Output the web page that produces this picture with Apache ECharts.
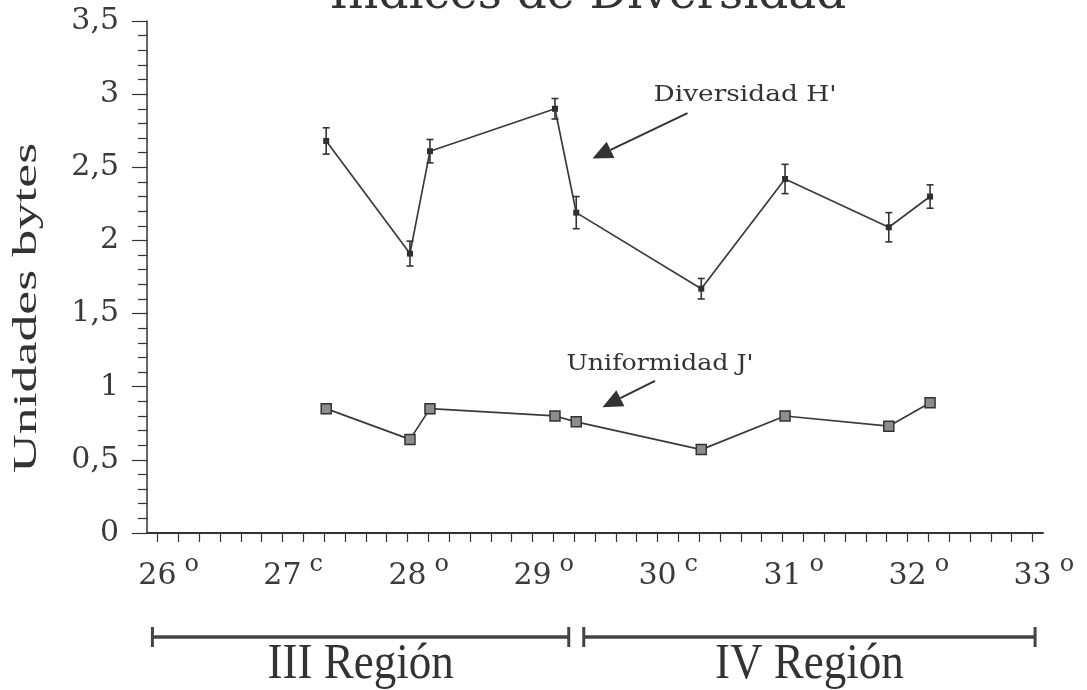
<!DOCTYPE html>
<html>
<head>
<meta charset="utf-8">
<script src="https://cdn.jsdelivr.net/npm/echarts/dist/echarts.min.js"></script>
<style>
  html, body { margin: 0; padding: 0; background: #fff; }
  #chart { width: 1087px; height: 690px; }
</style>
</head>
<body>
<div id="chart"></div>
<script>
// Sampling stations by latitude (degrees S)
const latitudes = [27.35, 28.02, 28.18, 29.18, 29.35, 30.35, 31.02, 31.85, 32.18];
// Shannon diversity H' and its error
const diversidadH = [2.68, 1.91, 2.61, 2.90, 2.19, 1.67, 2.42, 2.09, 2.30];
const diversidadErr = [0.09, 0.085, 0.08, 0.07, 0.11, 0.07, 0.10, 0.10, 0.08];
// Pielou evenness J'
const uniformidadJ = [0.85, 0.64, 0.85, 0.80, 0.76, 0.57, 0.80, 0.73, 0.89];
// Latitude tick labels and their raised marks
const latTickLabels = ['26', '27', '28', '29', '30', '31', '32', '33'];
const latTickMarks = ['o', 'c', 'o', 'o', 'c', 'o', 'o', 'o'];
// Administrative regions along the latitude axis
const regionNames = ['III Región', 'IV Región'];
const regionFrom = [25.96, 29.41];
const regionTo = [29.29, 33.02];

const STEP = 1 / 12;                       // half of a 10' minor tick
const latMin = Number(latTickLabels[0]) - STEP;
const latMax = Number(latTickLabels[latTickLabels.length - 1]) + STEP;
const slotCount = Math.round((latMax - latMin) / STEP) + 1;
const latSlots = [];
for (let i = 0; i < slotCount; i++) latSlots.push((latMin + i * STEP).toFixed(4));

const INK = '#333';
const TXT = '#3a3a3a';
const chart = echarts.init(document.getElementById('chart'), null, { renderer: 'canvas' });

const option = {
  animation: false,
  backgroundColor: '#fff',
  grid: { left: 147, right: 44, top: 21, bottom: 157, containLabel: false },
  xAxis: [
    { type: 'value', min: latMin, max: latMax, show: false, position: 'bottom' },
    {
      type: 'category', position: 'bottom', boundaryGap: false, data: latSlots,
      axisLine: { show: true, lineStyle: { color: INK, width: 2 } },
      axisTick: { show: true, inside: false, length: 9, interval: (i) => i % 2 === 1,
                  lineStyle: { color: INK, width: 1.2 } },
      axisLabel: {
        interval: (i) => (i - 1) % 12 === 0,
        margin: 20,
        formatter: (v, i) => {
          const k = Math.round((i - 1) / 12);
          const m = latTickMarks[k];
          return '{g|' + m + '}{n|' + latTickLabels[k] + '}{s|' + m + '}';
        },
        rich: {
          n: { fontFamily: 'DejaVu Serif', fontSize: 30, color: TXT, lineHeight: 38, verticalAlign: 'bottom' },
          s: { fontFamily: 'DejaVu Serif', fontSize: 24, color: TXT, verticalAlign: 'top',
               padding: [0, 0, 0, 8], lineHeight: 20 },
          g: { fontFamily: 'DejaVu Serif', fontSize: 24, color: 'rgba(0,0,0,0)', verticalAlign: 'top',
               padding: [0, 8, 0, 0], lineHeight: 20 }
        }
      },
      splitLine: { show: false }
    }
  ],
  yAxis: {
    type: 'value', min: 0, max: 3.5, interval: 0.5,
    axisLine: { show: true, lineStyle: { color: INK, width: 1.5 } },
    axisTick: { show: true, length: 15, lineStyle: { color: INK, width: 1.2 } },
    minorTick: { show: true, splitNumber: 5, length: 9, lineStyle: { color: INK, width: 1.2 } },
    splitLine: { show: false },
    axisLabel: {
      margin: 28, fontFamily: 'DejaVu Serif', fontSize: 30, color: TXT,
      formatter: (v) => String(v).replace('.', ',')
    }
  },
  series: [
    {
      name: "Diversidad H'", type: 'line', xAxisIndex: 0, yAxisIndex: 0,
      data: latitudes.map((x, i) => [x, diversidadH[i]]),
      symbol: 'rect', symbolSize: 6,
      itemStyle: { color: '#2e2e2e' },
      lineStyle: { color: '#3a3a3a', width: 1.7 },
      z: 4
    },
    {
      name: 'error', type: 'custom', xAxisIndex: 0, yAxisIndex: 0,
      data: latitudes.map((x, i) => [x, diversidadH[i] - diversidadErr[i], diversidadH[i] + diversidadErr[i]]),
      encode: { x: 0, y: [1, 2] },
      renderItem: (params, api) => {
        const x = api.value(0);
        const lo = api.coord([x, api.value(1)]);
        const hi = api.coord([x, api.value(2)]);
        const w = 3.5;
        const style = { stroke: '#333', lineWidth: 1.6, fill: null };
        return {
          type: 'group',
          children: [
            { type: 'line', shape: { x1: lo[0], y1: lo[1], x2: hi[0], y2: hi[1] }, style },
            { type: 'line', shape: { x1: lo[0] - w, y1: lo[1], x2: lo[0] + w, y2: lo[1] }, style },
            { type: 'line', shape: { x1: hi[0] - w, y1: hi[1], x2: hi[0] + w, y2: hi[1] }, style }
          ]
        };
      },
      z: 5
    },
    {
      name: "Uniformidad J'", type: 'line', xAxisIndex: 0, yAxisIndex: 0,
      data: latitudes.map((x, i) => [x, uniformidadJ[i]]),
      symbol: 'rect', symbolSize: 10,
      itemStyle: { color: '#8d8d8d', borderColor: '#333', borderWidth: 1.5 },
      lineStyle: { color: '#3a3a3a', width: 1.7 },
      z: 4
    }
  ]
};
chart.setOption(option);

// Annotations placed in data coordinates
const px = (x, y) => chart.convertToPixel({ xAxisIndex: 0, yAxisIndex: 0 }, [x, y]);

function arrow(from, tip) {
  const a = px(from[0], from[1]);
  const b = px(tip[0], tip[1]);
  const ang = Math.atan2(b[1] - a[1], b[0] - a[0]);
  const len = 20, half = 9;
  const bx = b[0] - len * Math.cos(ang), by = b[1] - len * Math.sin(ang);
  const nx = -Math.sin(ang), ny = Math.cos(ang);
  return [
    { type: 'line', shape: { x1: a[0], y1: a[1], x2: bx, y2: by },
      style: { stroke: '#333', lineWidth: 2 } },
    { type: 'polygon', shape: { points: [[b[0], b[1]], [bx + nx * half, by + ny * half], [bx - nx * half, by - ny * half]] },
      style: { fill: '#333' } }
  ];
}

function label(text, at, font, sx) {
  const p = px(at[0], at[1]);
  return { type: 'text', x: p[0], y: p[1], scaleX: sx || 1,
           style: { text, font, fill: '#333', align: 'center', verticalAlign: 'middle' } };
}

const graphics = [];
graphics.push(label("Diversidad H'", [30.70, 2.99], '22px "DejaVu Serif"', 1.2));
graphics.push(...arrow([30.24, 2.87], [29.48, 2.56]));
graphics.push(label("Uniformidad J'", [30.02, 1.15], '22px "DejaVu Serif"', 1.15));
graphics.push(...arrow([29.98, 1.04], [29.56, 0.86]));

// Title
graphics.push({ type: 'text', x: 588, y: 19,
  style: { text: 'Indices de Diversidad', font: '47px "DejaVu Serif"', fill: '#333',
           align: 'center', verticalAlign: 'bottom' } });

// Y axis name
graphics.push({ type: 'text', x: 27, y: 308, rotation: Math.PI / 2, scaleX: 1.63,
  style: { text: 'Unidades bytes', font: '33px "Liberation Serif"', fill: '#333',
           align: 'center', verticalAlign: 'middle' } });

// Region spans under the axis
const barY = 637;
for (let r = 0; r < regionNames.length; r++) {
  const x1 = px(regionFrom[r], 0)[0];
  const x2 = px(regionTo[r], 0)[0];
  graphics.push({ type: 'line', shape: { x1, y1: barY, x2, y2: barY }, style: { stroke: '#444', lineWidth: 3.5 } });
  graphics.push({ type: 'line', shape: { x1, y1: barY - 10, x2: x1, y2: barY + 10 }, style: { stroke: '#444', lineWidth: 3 } });
  graphics.push({ type: 'line', shape: { x1: x2, y1: barY - 10, x2, y2: barY + 10 }, style: { stroke: '#444', lineWidth: 3 } });
  graphics.push({ type: 'text', x: (x1 + x2) / 2, y: 665, scaleY: 1.12,
    style: { text: regionNames[r], font: '45px "Liberation Serif"', fill: '#333',
             align: 'center', verticalAlign: 'middle' } });
}

chart.setOption({ graphic: graphics });
</script>
</body>
</html>
